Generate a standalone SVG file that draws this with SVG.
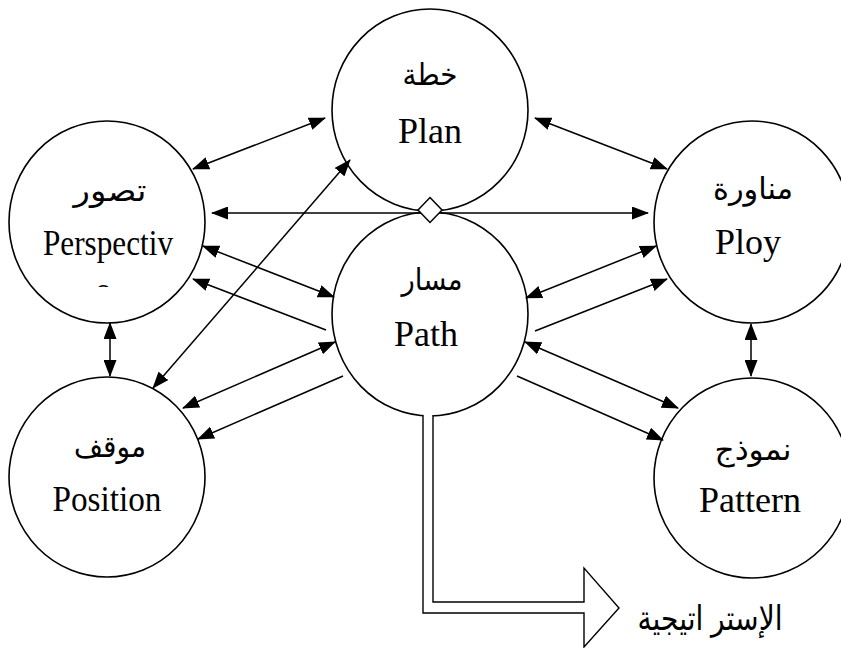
<svg xmlns="http://www.w3.org/2000/svg" width="841" height="648" viewBox="0 0 841 648">
  <style>
    .node { fill: #fff; stroke: #000; stroke-width: 1.6; }
    .en { font-family: "Liberation Serif", "Times New Roman", serif; font-size: 36px; fill: #000; text-anchor: middle; }
    .ar { font-family: "Liberation Serif", "DejaVu Sans", serif; font-size: 30px; fill: #000; text-anchor: middle; }
    .link { stroke: #000; stroke-width: 1.5; fill: none; }
    .one { marker-end: url(#head); }
    .two { marker-start: url(#head); marker-end: url(#head); }
  </style>
  <defs>
    <marker id="head" markerUnits="userSpaceOnUse" markerWidth="17" markerHeight="13" refX="16" refY="6.5" orient="auto-start-reverse">
      <path d="M0,0 L17,6.5 L0,13 z" fill="#000"/>
    </marker>
    <clipPath id="clipPersp">
      <rect x="0" y="0" width="841" height="287"/>
    </clipPath>
  </defs>

  <rect width="841" height="648" fill="#fff"/>

  <g id="plan">
    <ellipse class="node" cx="430" cy="110" rx="98" ry="101"/>
    <text class="ar" x="430" y="85" textLength="55" lengthAdjust="spacingAndGlyphs">خطة</text>
    <text class="en" x="430" y="143">Plan</text>
  </g>

  <g id="perspective">
    <ellipse class="node" cx="107" cy="222" rx="98" ry="101"/>
    <text class="ar" x="110" y="201" textLength="73" lengthAdjust="spacingAndGlyphs">تصور</text>
    <text class="en" x="108" y="255" textLength="130" lengthAdjust="spacingAndGlyphs">Perspectiv</text>
    <text class="en" x="103" y="302" clip-path="url(#clipPersp)">e</text>
  </g>

  <g id="ploy">
    <ellipse class="node" cx="752" cy="222" rx="98" ry="101"/>
    <text class="ar" x="753" y="199" textLength="80" lengthAdjust="spacingAndGlyphs">مناورة</text>
    <text class="en" x="748" y="254">Ploy</text>
  </g>

  <g id="path">
    <ellipse class="node" cx="430" cy="314" rx="98" ry="102"/>
    <text class="ar" x="432" y="290" textLength="61" lengthAdjust="spacingAndGlyphs">مسار</text>
    <text class="en" x="426" y="346">Path</text>
  </g>

  <g id="position">
    <ellipse class="node" cx="107" cy="477" rx="98" ry="100"/>
    <text class="ar" x="110" y="457" textLength="72" lengthAdjust="spacingAndGlyphs">موقف</text>
    <text class="en" x="107" y="511" textLength="109" lengthAdjust="spacingAndGlyphs">Position</text>
  </g>

  <g id="pattern">
    <ellipse class="node" cx="752" cy="478" rx="98" ry="100"/>
    <text class="ar" x="753" y="460" textLength="77" lengthAdjust="spacingAndGlyphs">نموذج</text>
    <text class="en" x="750" y="512">Pattern</text>
  </g>

  <g id="connectors">
    <!-- around Plan -->
    <line class="link two" x1="193" y1="169" x2="325" y2="118"/>
    <line class="link two" x1="535" y1="118" x2="667" y2="169"/>
    <line class="link two" x1="212" y1="213" x2="648" y2="213"/>
    <line class="link two" x1="153" y1="388" x2="350" y2="160"/>
    <!-- left side of Path -->
    <line class="link two" x1="203" y1="246" x2="334" y2="297"/>
    <line class="link one" x1="326" y1="330" x2="193" y2="279"/>
    <line class="link two" x1="335" y1="342" x2="183" y2="408"/>
    <line class="link one" x1="343" y1="376" x2="198" y2="439"/>
    <!-- right side of Path -->
    <line class="link two" x1="526" y1="298" x2="656" y2="246"/>
    <line class="link one" x1="535" y1="331" x2="667" y2="279"/>
    <line class="link two" x1="525" y1="342" x2="678" y2="408"/>
    <line class="link one" x1="517" y1="376" x2="663" y2="440"/>
    <!-- vertical pairs -->
    <line class="link two" x1="110" y1="323" x2="110" y2="376"/>
    <line class="link two" x1="751" y1="324" x2="751" y2="376"/>
    <!-- junction diamond -->
    <path d="M430,197.5 L442,210 L430,222.5 L418,210 z" fill="#fff" stroke="#000" stroke-width="1.5"/>
    <!-- hollow block arrow out of Path -->
    <path d="M423,415 L423,613 L584,613 L584,647 L619,608 L584,568 L584,602 L433,602 L433,415" fill="#fff" stroke="#000" stroke-width="1.4" stroke-linejoin="miter"/>
  </g>

  <text x="710" y="630" font-family="Liberation Sans, DejaVu Sans, sans-serif" font-size="34" text-anchor="middle" textLength="145" lengthAdjust="spacingAndGlyphs">الإستر اتيجية</text>
</svg>
